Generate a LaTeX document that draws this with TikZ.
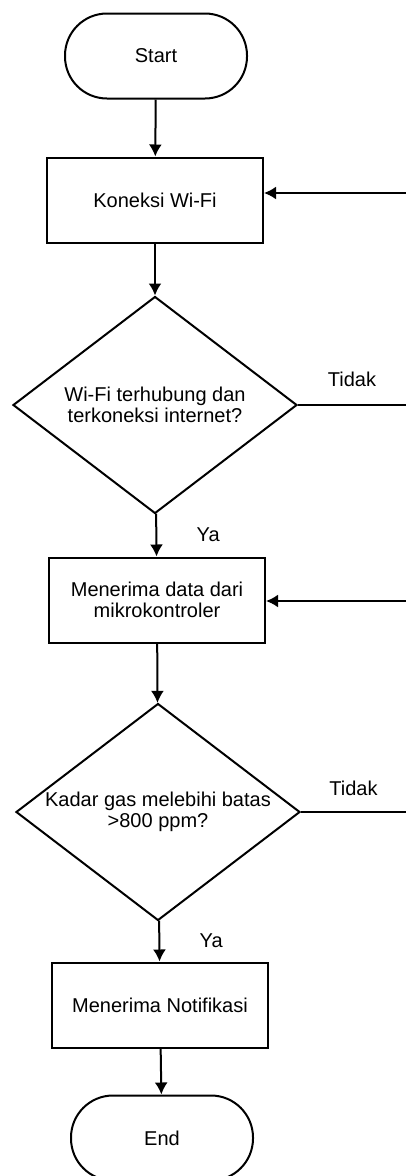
\documentclass[tikz,border=0pt]{standalone}
\usepackage{fontspec}
\setmainfont{Liberation Sans}
\usetikzlibrary{shapes.geometric, arrows.meta}

\begin{document}
\begin{tikzpicture}[x = 1pt, y = -1pt, > = {Latex[length = 12pt, width = 13pt]}, line width = 2pt,
	font = \fontsize{20}{21}\selectfont,
	terminal/.style = {draw, rectangle, rounded corners = 42pt, minimum width = 182pt, minimum height = 85pt, inner sep = 0pt},
	process/.style = {draw, rectangle, minimum width = 216pt, minimum height = 85pt, inner sep = 0pt, align = center},
	decision/.style = {draw, diamond, shape aspect = 1.31, minimum width = 284pt, minimum height = 217pt, inner xsep = -8pt, inner ysep = 0pt, align = center},
	label/.style = {font = \fontsize{20}{21}\selectfont}]

	% Canvas
	
	\useasboundingbox (0, 0) rectangle (406, 1176);
	
	\def\xr{406}		% Right edge, where the return lines come in
	
	% Draw nodes
	
	\node [terminal] (start) at (156, 56) {Start};
	\node [process] (wifi) at (155, 200) {Koneksi Wi-Fi};
	\node [decision] (cekwifi) at (155, 405) {Wi-Fi terhubung dan\\terkoneksi internet?};
	\node [process] (terima) at (157, 600) {Menerima data dari\\mikrokontroler};
	\node [decision] (cekgas) at (158, 812) {Kadar gas melebihi batas\\>800 ppm?};
	\node [process] (notif) at (160, 1005) {Menerima Notifikasi};
	\node [terminal] (end) at (162, 1138) {End};
	
	\coordinate (inwifi) at (\xr, 193);
	\coordinate (interima) at (\xr, 601);
	
	% Draw connectors
	
	\draw [->] (start) -- (wifi);
	\draw [->] (wifi) -- (cekwifi);
	\draw [->] (cekwifi) -- node [midway, right = 36pt, label] {Ya} (terima);
	\draw [->] (terima) -- (cekgas);
	\draw [->] (cekgas) -- node [midway, right = 36pt, label] {Ya} (notif);
	\draw [->] (notif) -- (end);
	
	\draw (cekwifi.east) -- node [midway, above = 14pt, label] {Tidak} (cekwifi.east -| inwifi);
	\draw (cekgas.east) -- node [midway, above = 12pt, label] {Tidak} (cekgas.east -| interima);
	
	\draw [->] (inwifi) -- (inwifi -| wifi.east);
	\draw [->] (interima) -- (interima -| terima.east);
	
\end{tikzpicture}
\end{document}
